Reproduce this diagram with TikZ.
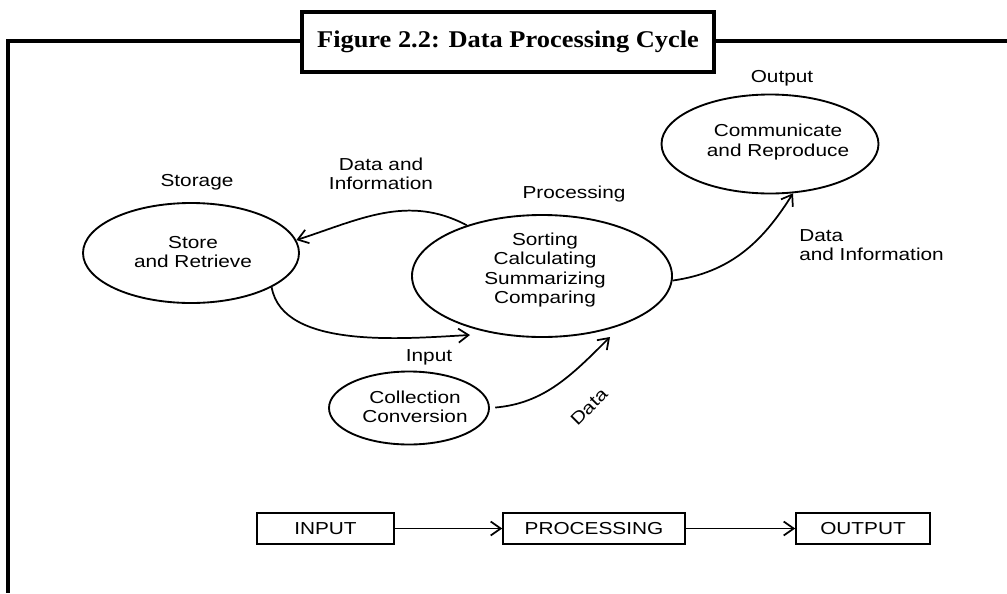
\documentclass[tikz,border=0pt]{standalone}
\usepackage{fontspec}
\newfontfamily\lab[FakeStretch=1.2]{Liberation Sans}
\newfontfamily\ttl[FakeStretch=1.1]{Liberation Serif}
\usetikzlibrary{arrows.meta,shapes.geometric}
\begin{document}
\begin{tikzpicture}[x=0.75pt,y=-0.75pt,
  ell/.style={draw, ellipse, line width=1.4pt, inner sep=0pt},
  txt/.style={font=\lab\fontsize{13}{14.6}\selectfont, align=center, inner sep=0pt},
  arr/.style={line width=1.3pt, -{Straight Barb[length=7.5pt,width=10.5pt]}},
  box/.style={draw, rectangle, line width=1.2pt, minimum height=23.25pt, inner sep=0pt, font=\lab\fontsize{13}{15}\selectfont},
]
\useasboundingbox (0,0) rectangle (1007,593);
\draw[line width=2.6pt] (1007,41) -| (8,593);
\node[draw, line width=2.6pt, fill=white, minimum width=309pt, minimum height=45pt, inner sep=0pt, font=\ttl\bfseries\fontsize{18}{20}\selectfont] (title) at (508,42) {Figure 2.2: Data Processing Cycle};

\node[ell, minimum width=162pt, minimum height=75pt] (stor) at (191,253) {};
\node[txt] (stortxt) at (193,252) {Store\\and Retrieve};
\node[txt] (storlbl) at (197,182) {Storage};

\node[ell, minimum width=195pt, minimum height=91.5pt] (proc) at (542,276) {};
\node[txt] (proctxt) at (545,270) {Sorting\\Calculating\\Summarizing\\Comparing};
\node[txt] (proclbl) at (574,194) {Processing};

\node[ell, minimum width=162.75pt, minimum height=74.25pt] (outp) at (770,144) {};
\node[txt] (outtxt) at (778,142) {Communicate\\and Reproduce};
\node[txt] (outlbl) at (782,78) {Output};

\node[ell, minimum width=120pt, minimum height=54.75pt] (coll) at (409,408) {};
\node[txt] (colltxt) at (415,407) {Collection\\Conversion};

\node[txt] (dilbl) at (381,174) {Data and\\Information};
\node[txt, anchor=west, align=left] (di2lbl) at (799,245) {Data\\and Information};
\node[txt] (inlbl) at (429,357) {Input};
\node[txt, rotate=45] (datalbl) at (589,407) {Data};

\coordinate (inTip) at (470,335);
\coordinate (dataTip) at (610,337);

\draw[arr] (proc.146) to[out=152, in=18] (stor.7);
\draw[arr] (stor.-23) to[out=-80, in=183, looseness=0.8] (inTip);
\draw[arr, shorten <=4pt] (coll.east) to[out=5, in=225] (dataTip);
\draw[arr] (proc.-2) to[out=8, in=238] (outp.-65);

\node[box, minimum width=102.75pt] (bin) at (325.5,528.5) {INPUT};
\node[box, minimum width=136.5pt] (bproc) at (594,528.5) {PROCESSING};
\node[box, minimum width=100.5pt] (bout) at (863,528.5) {OUTPUT};
\draw[arr] (bin) -- (bproc);
\draw[arr] (bproc) -- (bout);
\end{tikzpicture}
\end{document}
